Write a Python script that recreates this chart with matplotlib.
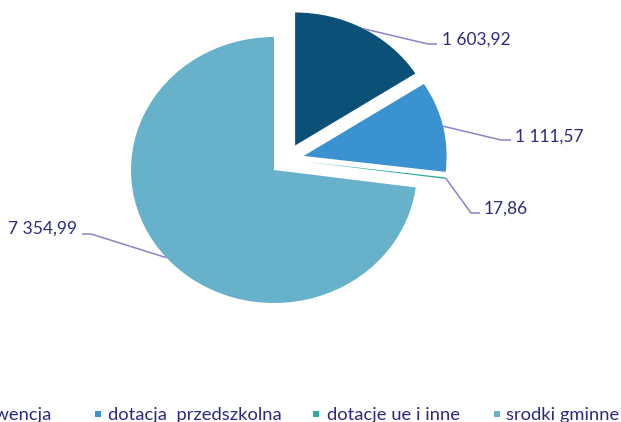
import matplotlib
matplotlib.use("Agg")
import matplotlib.pyplot as plt
from matplotlib.patches import Rectangle
import numpy as np

categories = ["subwencja", "dotacja  przedszkolna", "dotacje ue i inne", "srodki gminne"]
values = [1603.92, 1111.57, 17.86, 7354.99]
value_labels = ["1 603,92", "1 111,57", "17,86", "7 354,99"]
colors = ["#0A5077", "#3B92D0", "#2EA99D", "#68B1CB"]

W, H = 621, 422
CX, CY, RX, RY = 286.9, 159.5, 143.0, 133.0

def X(px):
    return (px - CX) / RX

def Y(py):
    return (CY - py) / RY

text_color = "#2E2B7E"
line_color = "#8F80C8"
font = "Lato"

fig = plt.figure(figsize=(W / 100, H / 100), dpi=100)
ax = fig.add_axes([0, 0, 1, 1])
wedges, _ = ax.pie(values, explode=[0.12] * 4, startangle=90, counterclock=False,
                   colors=colors, radius=1, center=(0, 0),
                   wedgeprops=dict(linewidth=0))
ax.set_aspect("auto")
ax.set_xlim(X(0), X(W))
ax.set_ylim(Y(H), Y(0))
ax.axis("off")

# label layout: (elbow px, elbow py, end px, text px, baseline py, ha)
label_layout = [
    (428, 44, 437, 442, 45, "left"),
    (501, 140, 511, 515, 142, "left"),
    (471, 213, 480, 484, 214, "left"),
    (91, 234, 82, 77, 234, "right"),
]

for w, lab, (ex, ey, endx, tx, ty, ha) in zip(wedges, value_labels, label_layout):
    ang = np.deg2rad((w.theta1 + w.theta2) / 2)
    cx, cy = w.center
    sx, sy = cx + w.r * np.cos(ang), cy + w.r * np.sin(ang)
    ax.plot([sx, X(ex), X(endx)], [sy, Y(ey), Y(ey)], color=line_color, lw=1.1,
            solid_capstyle="butt")
    ax.text(X(tx), Y(ty), lab, ha=ha, va="baseline", fontsize=12.5,
            color=text_color, family=font)

# legend (manual, partly cut off on the left like the reference)
legend_text_x = [52, 108, 327, 506]
legend_marker_x = [None, 98, 315.5, 497]
for i, (cat, col) in enumerate(zip(categories, colors)):
    ha = "right" if i == 0 else "left"
    fig.text(legend_text_x[i] / W, 1 - 420 / H, cat, ha=ha, va="baseline",
             fontsize=13.2, color=text_color, family=font)
    if legend_marker_x[i] is not None:
        mx = legend_marker_x[i]
        fig.add_artist(Rectangle(((mx - 3) / W, 1 - 417 / H), 6 / W, 6 / H,
                                 transform=fig.transFigure, color=col, lw=0))

fig.savefig("out.png", dpi=100)
